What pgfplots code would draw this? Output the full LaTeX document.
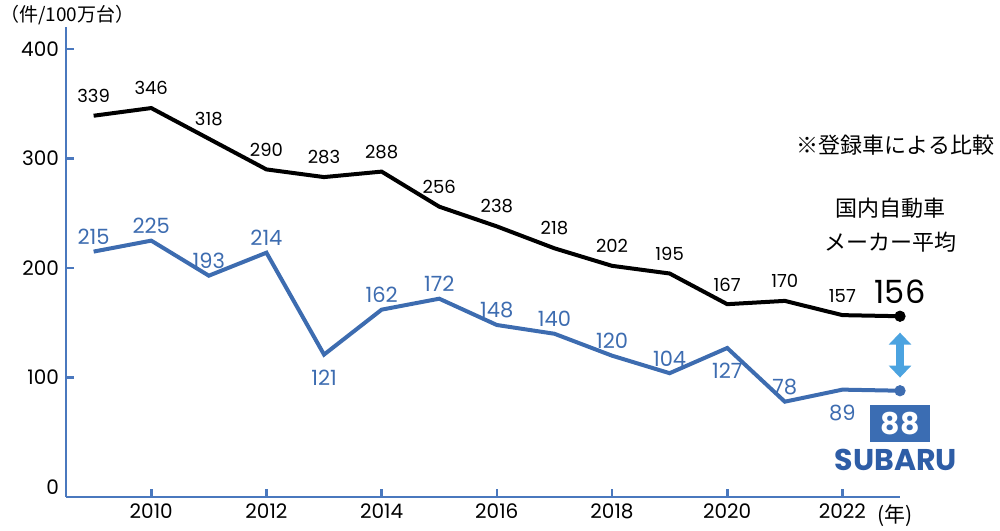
\documentclass[border=0pt]{standalone}
\usepackage{fontspec}
\setmainfont{Poppins}
\newfontfamily\jp{Noto Sans CJK JP}
\usepackage{pgfplots}
\pgfplotsset{compat=1.18}
\usetikzlibrary{arrows.meta}
\definecolor{axisblue}{HTML}{4A78BE}
\definecolor{lineblue}{HTML}{3D6CB0}
\definecolor{arrowblue}{HTML}{4BA3E0}
\definecolor{boxblue}{HTML}{3B6DB3}
\definecolor{subaru}{HTML}{2E5DA6}
\begin{document}
\begin{tikzpicture}
\useasboundingbox (-33pt,-16.5pt) rectangle (467pt,248.5pt);
\begin{axis}[
  scale only axis, width=417pt, height=235pt,
  at={(0,0)}, anchor=south west,
  xmin=2008.52, xmax=2023, ymin=-9, ymax=420,
  axis x line*=bottom, axis y line*=left,
  axis line style={axisblue, line width=1.3pt},
  xtick={2010,2012,...,2022}, ytick={100,200,300,400},
  extra y ticks={0}, extra y tick style={major tick length=0pt},
  tick style={axisblue, line width=1.3pt}, major tick length=4pt,
  tick align=inside,
  /pgf/number format/assume math mode=true,
  x tick label style={/pgf/number format/1000 sep={}, font=\fontsize{10}{11}\selectfont},
  y tick label style={font=\fontsize{10}{11}\selectfont},
  clip=false,
]
% lines
\addplot[black, line width=2pt] coordinates {
 (2009,339) (2010,346) (2011,318) (2012,290) (2013,283) (2014,288) (2015,256)
 (2016,238) (2017,218) (2018,202) (2019,195) (2020,167) (2021,170) (2022,157) (2023,156)};
\addplot[lineblue, line width=2pt] coordinates {
 (2009,215) (2010,225) (2011,193) (2012,214) (2013,121) (2014,162) (2015,172)
 (2016,148) (2017,140) (2018,120) (2019,104) (2020,127) (2021,78) (2022,89) (2023,88)};
% black labels
\addplot[draw=none, nodes near coords,
  every node near coord/.style={font=\fontsize{9}{10}\selectfont, text=black, anchor=south, yshift=3pt}]
 coordinates {
 (2009,339) (2010,346) (2011,318) (2012,290) (2013,283) (2014,288) (2015,256)
 (2016,238) (2017,218) (2018,202) (2019,195) (2020,167) (2021,170) (2022,157)};
% blue labels above
\addplot[draw=none, nodes near coords,
  every node near coord/.style={font=\fontsize{10.5}{12}\selectfont, text=lineblue, anchor=south, yshift=0pt}]
 coordinates {
 (2009,215) (2010,225) (2011,193) (2012,214) (2014,162) (2015,172)
 (2016,148) (2017,140) (2018,120) (2019,104) (2021,78)};
% blue labels below
\addplot[draw=none, nodes near coords,
  every node near coord/.style={font=\fontsize{10.5}{12}\selectfont, text=lineblue, anchor=north, yshift=-4pt}]
 coordinates {(2013,121) (2020,127) (2022,89)};
% endpoints
\addplot[only marks, mark=*, mark size=2.6pt, black, nodes near coords,
  every node near coord/.style={font=\fontsize{16}{18}\selectfont, text=black, anchor=south, yshift=3pt}]
 coordinates {(2023,156)};
\addplot[only marks, mark=*, mark size=2.6pt, lineblue, nodes near coords,
  every node near coord/.style={font=\fontsize{15}{17}\selectfont\bfseries, text=white, fill=boxblue,
    minimum width=30pt, minimum height=18.5pt, inner sep=0pt, anchor=north, yshift=-7pt}]
 coordinates {(2023,88)};
% double arrow
\draw[arrowblue, line width=4pt, {Triangle[width=11pt,length=6pt]}-{Triangle[width=11pt,length=6pt]}]
  (axis cs:2023,100) -- (axis cs:2023,141);
% annotations
\node[font=\fontsize{15}{17}\selectfont\bfseries, text=subaru, inner sep=0pt] at (axis cs:2022.93,24.5) {SUBARU};
\node[font=\jp\fontsize{11}{13}\selectfont, anchor=east, inner sep=0pt] at (axis cs:2024.64,312) {※登録車による比較};
\node[font=\jp\fontsize{11}{17}\selectfont, align=center, inner sep=0pt] at (axis cs:2022.83,239.5) {国内自動車\\メーカー平均};
\end{axis}
\node[font=\jp\fontsize{9.5}{10}\selectfont, anchor=west, inner sep=0pt] at (-33pt,241pt) {（件/100万台）};
\node[font=\jp\fontsize{10.5}{11}\selectfont, inner sep=0pt] at (414.5pt,-9.5pt) {(年)};
\end{tikzpicture}
\end{document}
